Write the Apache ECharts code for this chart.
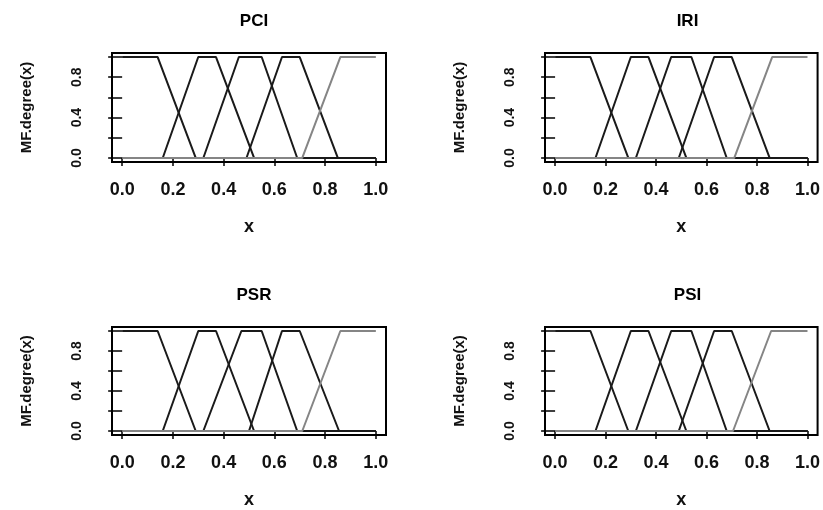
<!DOCTYPE html>
<html>
<head>
<meta charset="utf-8">
<script src="https://cdn.jsdelivr.net/npm/echarts@6/dist/echarts.min.js"></script>
<style>
html,body{margin:0;padding:0;background:#fff;}
#chart{width:823px;height:510px;}
</style>
</head>
<body>
<div id="chart"></div>
<script>
// Panel titles
const panelTitles = ['PCI', 'IRI', 'PSR', 'PSI'];
// Tick values
const xTicks = [0, 0.2, 0.4, 0.6, 0.8, 1.0];
const yTicks = [0, 0.2, 0.4, 0.6, 0.8, 1.0];
const yTickLabels = [0, 0.4, 0.8];
// Trapezoid breakpoints [a, b, c, d] for the five membership functions of each panel
const pciMF = [[0, 0, 0.14, 0.29], [0.16, 0.30, 0.37, 0.52], [0.32, 0.46, 0.55, 0.69], [0.49, 0.63, 0.70, 0.85], [0.71, 0.86, 1, 1]];
const iriMF = [[0, 0, 0.14, 0.29], [0.16, 0.30, 0.37, 0.52], [0.32, 0.46, 0.54, 0.68], [0.49, 0.63, 0.70, 0.85], [0.71, 0.86, 1, 1]];
const psrMF = [[0, 0, 0.14, 0.29], [0.16, 0.30, 0.37, 0.52], [0.32, 0.47, 0.55, 0.69], [0.50, 0.63, 0.70, 0.855], [0.71, 0.86, 1, 1]];
const psiMF = [[0, 0, 0.14, 0.29], [0.16, 0.30, 0.37, 0.52], [0.32, 0.46, 0.54, 0.68], [0.49, 0.63, 0.70, 0.85], [0.705, 0.856, 1, 1]];
const panelMFs = [pciMF, iriMF, psrMF, psiMF];

function trapPoints(p) {
  const [a, b, c, d] = p;
  const pts = [];
  if (a === b && a === 0) { pts.push([0, 1]); } else { pts.push([0, 0], [a, 0], [b, 1]); }
  if (c === d && d === 1) { pts.push([1, 1]); } else { pts.push([c, 1], [d, 0], [1, 0]); }
  return pts;
}

const FONT = '"Liberation Sans", Arial, Helvetica, sans-serif';
const layout = [
  { left: 112, top: 53, width: 274, height: 109 },
  { left: 545, top: 53, width: 275, height: 109 },
  { left: 112, top: 327, width: 274, height: 109 },
  { left: 545, top: 327, width: 275, height: 109 }
];
const titleTops = [8, 8, 282, 282];

const grids = [], xAxes = [], yAxes = [], series = [], titles = [];
layout.forEach((g, i) => {
  grids.push({ left: g.left, top: g.top, width: g.width, height: g.height, show: true, borderColor: '#000', borderWidth: 2, backgroundColor: 'transparent' });
  titles.push({ text: panelTitles[i], left: g.left + g.width / 2, top: titleTops[i], textAlign: 'center',
    textStyle: { fontFamily: FONT, fontWeight: 'bold', fontSize: 17, color: '#000' } });
  xAxes.push({
    type: 'value', gridIndex: i, min: -0.04, max: 1.04,
    splitLine: { show: false }, axisLine: { show: false },
    axisTick: { show: true, customValues: xTicks, length: 8, lineStyle: { color: '#000', width: 1.5 } },
    axisLabel: { customValues: xTicks, formatter: v => v.toFixed(1), fontFamily: FONT, fontWeight: 'bold', fontSize: 18, color: '#111', margin: 19 },
    name: 'x', nameLocation: 'middle', nameGap: 56,
    nameTextStyle: { fontFamily: FONT, fontWeight: 'bold', fontSize: 18, color: '#111' }
  });
  yAxes.push({
    type: 'value', gridIndex: i, min: -0.04, max: 1.04,
    splitLine: { show: false }, axisLine: { show: false },
    axisTick: { show: true, customValues: yTicks, length: 14, lineStyle: { color: '#000', width: 1.5 } },
    axisLabel: { customValues: yTickLabels, formatter: v => v.toFixed(1), rotate: 90, fontFamily: FONT, fontWeight: 'bold', fontSize: 14, color: '#111', margin: 28 },
    name: 'MF.degree(x)', nameLocation: 'middle', nameGap: 78,
    nameTextStyle: { fontFamily: FONT, fontWeight: 'bold', fontSize: 15, color: '#111' }
  });
  panelMFs[i].forEach((p, k) => {
    series.push({
      type: 'line', xAxisIndex: i, yAxisIndex: i, data: trapPoints(p),
      showSymbol: false, symbol: 'none', silent: true, animation: false,
      lineStyle: { color: k === 4 ? '#858585' : '#1a1a1a', width: 2 },
      z: 2 + k
    });
  });
});

const chart = echarts.init(document.getElementById('chart'), null, { renderer: 'canvas' });
chart.setOption({
  backgroundColor: '#fff',
  animation: false,
  title: titles,
  grid: grids,
  xAxis: xAxes,
  yAxis: yAxes,
  series: series
});
</script>
</body>
</html>
